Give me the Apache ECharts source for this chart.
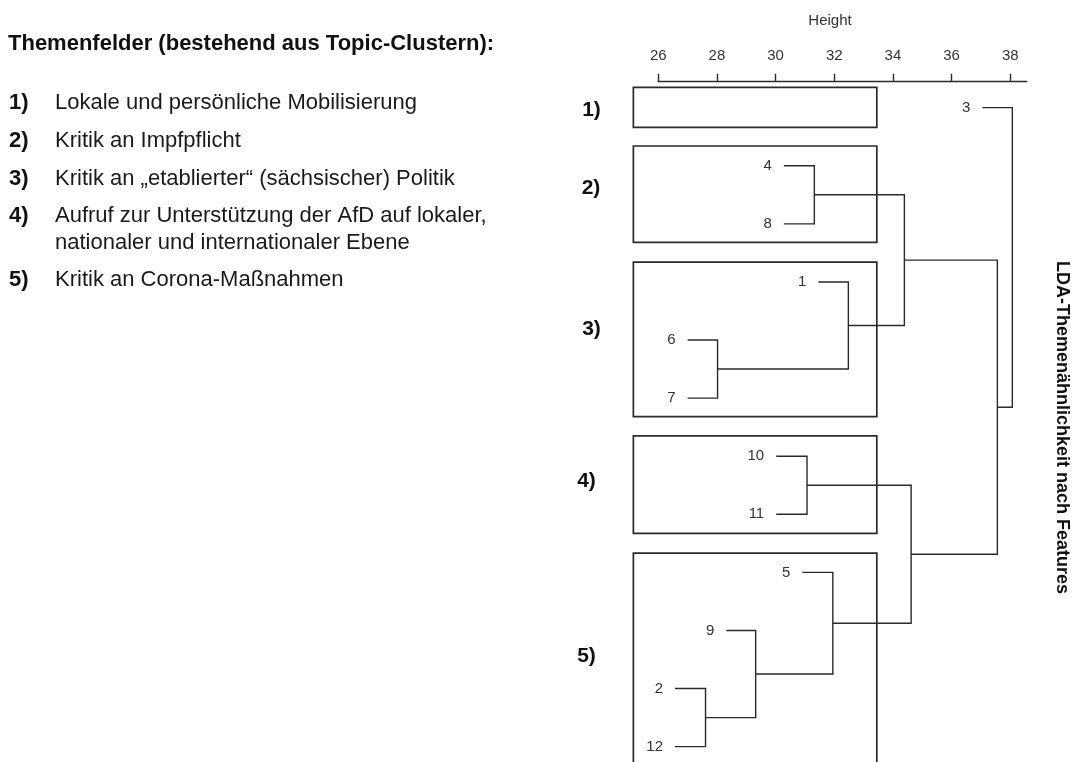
<!DOCTYPE html>
<html>
<head>
<meta charset="utf-8">
<script src="https://cdn.jsdelivr.net/npm/echarts@6.0.0/dist/echarts.min.js"></script>
<style>
html,body{margin:0;padding:0;background:#fff;}
#chart{width:1073px;height:762px;}
</style>
</head>
<body>
<div id="chart"></div>
<script>
// ---------- data ----------
const tickValues = [26, 28, 30, 32, 34, 36, 38];
// leaves in display order (top to bottom)
const leafLabels = ['3', '4', '8', '1', '6', '7', '10', '11', '5', '9', '2', '12'];
const leafHeights = [37.05, 30.28, 30.28, 31.46, 27.0, 27.0, 30.02, 30.02, 30.91, 28.32, 26.57, 26.57];
// merges: 'L<i>' = leaf i, 'M<j>' = merge j
const mergeLeft = ['L10', 'L4', 'M0', 'L6', 'L1', 'M2', 'L3', 'M4', 'M3', 'M7', 'L0'];
const mergeRight = ['L11', 'L5', 'L9', 'L7', 'L2', 'L8', 'M1', 'M6', 'M5', 'M8', 'M9'];
const mergeHeights = [27.61, 28.02, 29.32, 31.07, 31.32, 31.95, 32.48, 34.39, 34.62, 37.56, 38.07];
// topic clusters (boxes): height range and leaf-position range
const clusterNames = ['1)', '2)', '3)', '4)', '5)'];
const clusterFrom = [25.15, 25.15, 25.15, 25.15, 25.15];
const clusterTo = [33.45, 33.45, 33.45, 33.45, 33.45];
const clusterTop = [-0.35, 0.66, 2.66, 5.65, 7.67];
const clusterBottom = [0.34, 2.32, 5.32, 7.33, 11.8];
// left-hand legend text
const themeTitle = 'Themenfelder (bestehend aus Topic-Clustern):';
const themeNumbers = ['1)', '2)', '3)', '4)', '', '5)'];
const themeTexts = [
  'Lokale und persönliche Mobilisierung',
  'Kritik an Impfpflicht',
  'Kritik an \u201Eetablierter\u201C (sächsischer) Politik',
  'Aufruf zur Unterstützung der AfD auf lokaler,',
  'nationaler und internationaler Ebene',
  'Kritik an Corona-Maßnahmen'
];
const sideTitle = 'LDA-Themenähnlichkeit nach Features';
const axisTitle = 'Height';

// ---------- layout helpers ----------
function nodePos(ref) {
  const k = +ref.slice(1);
  if (ref[0] === 'L') return { h: leafHeights[k], y: k };
  const a = nodePos(mergeLeft[k]), b = nodePos(mergeRight[k]);
  return { h: mergeHeights[k], y: (a.y + b.y) / 2 };
}

const FONT = "'Liberation Sans', Arial, Helvetica, sans-serif";
const LINE = '#2a2a2a';

const themeRowY = [102.9, 141.2, 178.8, 216.2, 243, 279.5];
const clusterLabelPos = [[591.5, 110], [591, 188], [591.5, 329], [586.5, 481.7], [586.5, 656.7]];

const graphics = [];
graphics.push({
  type: 'text', x: 8, y: 44.2,
  style: { text: themeTitle, font: 'bold 22px ' + FONT, fill: '#111', textVerticalAlign: 'middle', textAlign: 'left' }
});
themeTexts.forEach((t, i) => {
  if (themeNumbers[i]) {
    graphics.push({
      type: 'text', x: 9, y: themeRowY[i],
      style: { text: themeNumbers[i], font: 'bold 22px ' + FONT, fill: '#111', textVerticalAlign: 'middle' }
    });
  }
  graphics.push({
    type: 'text', x: 55, y: themeRowY[i],
    style: { text: t, font: '22px ' + FONT, fill: '#1a1a1a', textVerticalAlign: 'middle' }
  });
});
clusterNames.forEach((n, i) => {
  graphics.push({
    type: 'text', x: clusterLabelPos[i][0], y: clusterLabelPos[i][1],
    style: { text: n, font: 'bold 21px ' + FONT, fill: '#111', textAlign: 'center', textVerticalAlign: 'middle' }
  });
});
graphics.push({
  type: 'text', x: 1062, y: 427.5, rotation: -Math.PI / 2,
  style: { text: sideTitle, font: 'bold 18px ' + FONT, fill: '#111', textAlign: 'center', textVerticalAlign: 'middle' }
});

const chart = echarts.init(document.getElementById('chart'), null, { renderer: 'canvas' });
chart.setOption({
  backgroundColor: '#fff',
  animation: false,
  grid: { left: 658.3, right: 46.3, top: 81.7, bottom: 0 },
  xAxis: {
    type: 'value', position: 'top', min: 26, max: 38.56, interval: 2,
    name: axisTitle, nameLocation: 'middle', nameGap: 53,
    nameTextStyle: { fontSize: 15, color: '#333', fontFamily: FONT, padding: [0, 25, 0, 0] },
    axisLine: { show: true, onZero: false, lineStyle: { color: LINE, width: 1.4 } },
    axisTick: { show: true, length: 8, customValues: tickValues, lineStyle: { color: LINE, width: 1.4 } },
    axisLabel: { customValues: tickValues, fontSize: 15, color: '#333', fontFamily: FONT, margin: 18 },
    splitLine: { show: false }
  },
  yAxis: { type: 'value', inverse: true, min: -0.447, max: 11.264, show: false },
  graphic: graphics,
  series: [
    {
      type: 'custom', name: 'clusters', clip: false, silent: true,
      data: clusterNames.map((n, i) => [clusterFrom[i], clusterTop[i], clusterTo[i], clusterBottom[i]]),
      renderItem: function (params, api) {
        const p1 = api.coord([api.value(0), api.value(1)]);
        const p2 = api.coord([api.value(2), api.value(3)]);
        return {
          type: 'rect',
          shape: { x: p1[0], y: p1[1], width: p2[0] - p1[0], height: p2[1] - p1[1] },
          style: { fill: 'none', stroke: LINE, lineWidth: 1.7 }
        };
      }
    },
    {
      type: 'custom', name: 'links', clip: false, silent: true,
      data: mergeHeights.map((h, i) => [h, i]),
      renderItem: function (params, api) {
        const k = params.dataIndex;
        const a = nodePos(mergeLeft[k]), b = nodePos(mergeRight[k]);
        const H = mergeHeights[k];
        const pts = [
          api.coord([a.h, a.y]), api.coord([H, a.y]),
          api.coord([H, b.y]), api.coord([b.h, b.y])
        ];
        return { type: 'polyline', shape: { points: pts }, style: { fill: 'none', stroke: LINE, lineWidth: 1.4 } };
      }
    },
    {
      type: 'custom', name: 'leaves', clip: false, silent: true,
      data: leafLabels.map((l, i) => [leafHeights[i], i, l]),
      renderItem: function (params, api) {
        const p = api.coord([api.value(0), api.value(1)]);
        return {
          type: 'text', x: p[0] - 12, y: p[1],
          style: { text: leafLabels[params.dataIndex], font: '15px ' + FONT, fill: '#333', textAlign: 'right', textVerticalAlign: 'middle' }
        };
      }
    }
  ]
});
</script>
</body>
</html>
